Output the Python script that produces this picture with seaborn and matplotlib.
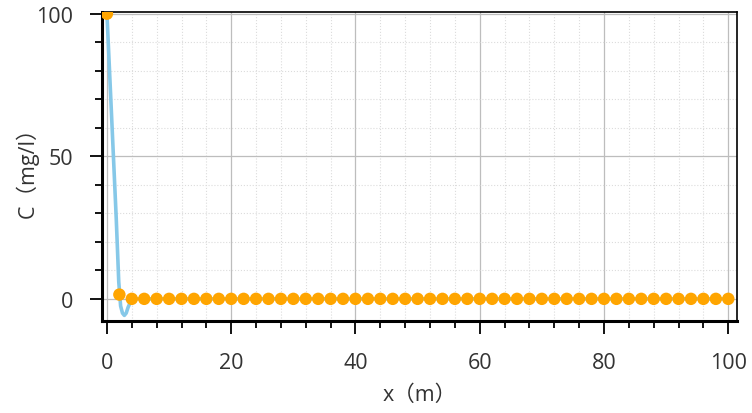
import seaborn as sns
import matplotlib.pyplot as plt
import pandas as pd
import numpy as np
from matplotlib.ticker import MultipleLocator

# Data
# smooth model curve
curve_x = [0, 0.5, 1.0, 1.5, 1.9, 2.2, 2.5, 2.8, 3.1, 3.4, 3.8, 4.2, 6, 100]
curve_c = [100, 76, 52, 28, 6, -2.5, -5.0, -5.8, -5.0, -3.0, -1.0, 0, 0, 0]

# measured points, every 2 m
pts_x = list(range(0, 101, 2))
pts_c = [100, 1.5] + [0] * 49

curve = pd.DataFrame({'x': curve_x, 'C': curve_c})
pts = pd.DataFrame({'x': pts_x, 'C': pts_c})

sns.set_style('white')
plt.rcParams['font.family'] = ['Open Sans', 'Noto Sans CJK SC', 'DejaVu Sans']

fig = plt.figure(figsize=(7.52, 4.14), dpi=100)
ax = fig.add_axes([0.1356, 0.222, 0.8444, 0.7466])

sns.lineplot(data=curve, x='x', y='C', ax=ax, color='#86c8e8', linewidth=2.6, zorder=3)
sns.scatterplot(data=pts, x='x', y='C', ax=ax, color='#ffa500', s=80,
                edgecolor='none', zorder=4)

ax.set_xlim(-0.8, 101.4)
ax.set_ylim(-7.8, 100.6)
ax.xaxis.set_major_locator(MultipleLocator(20))
ax.xaxis.set_minor_locator(MultipleLocator(4))
ax.yaxis.set_major_locator(MultipleLocator(50))
ax.yaxis.set_minor_locator(MultipleLocator(10))

ax.grid(which='major', color='#bdbdbd', linewidth=0.9, linestyle='-')
ax.grid(which='minor', color='#dcdcdc', linewidth=0.8, linestyle=':')
ax.set_axisbelow(True)

for side in ['top', 'right']:
    ax.spines[side].set_color('black')
    ax.spines[side].set_linewidth(1.2)
for side in ['left', 'bottom']:
    ax.spines[side].set_color('black')
    ax.spines[side].set_linewidth(2.2)

ax.tick_params(which='major', direction='out', length=9, width=1.3, color='black',
               labelsize=15.5, labelcolor='#333333', bottom=True, left=True)
ax.tick_params(which='minor', direction='out', length=5, width=1.3, color='black',
               bottom=True, left=True)
ax.tick_params(axis='x', which='major', pad=13)
ax.tick_params(axis='y', which='major', pad=12)

ax.set_xlabel('x（m）', fontsize=15.5, color='#333333', labelpad=8)
ax.set_ylabel('C（mg/l）', fontsize=15.5, color='#333333', labelpad=-2)

plt.savefig('out.png', dpi=100)
